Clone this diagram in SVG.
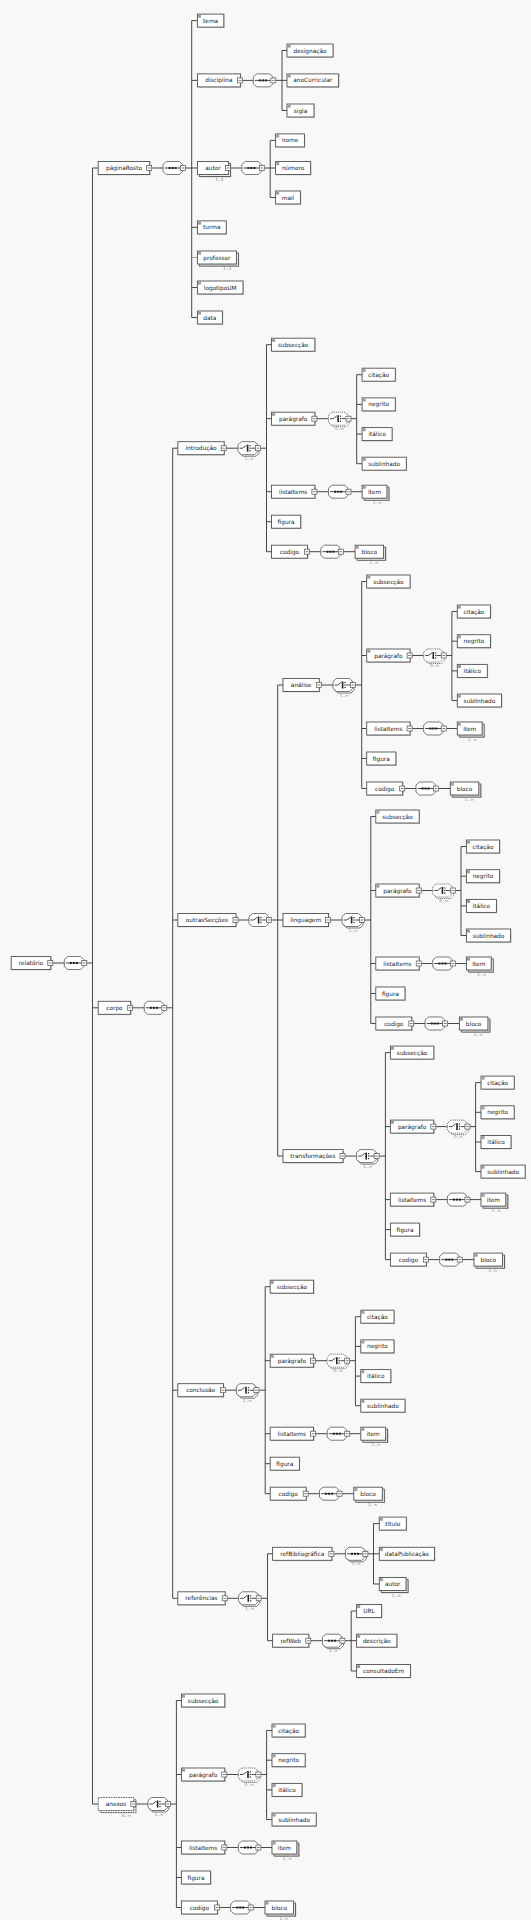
<svg xmlns="http://www.w3.org/2000/svg" xmlns:xlink="http://www.w3.org/1999/xlink" width="531" height="1920" viewBox="0 0 531 1920">
<style>
.bg{fill:#f8f8f8}
.bx{fill:#fff;stroke:#505050;stroke-width:0.9}
.bxd{stroke-dasharray:1.6,0.9}
.sh{fill:#bdbdbd}
.sq{fill:#9a9a9a}
.mn{fill:#fff;stroke:#505050;stroke-width:0.7}
.mnl{stroke:#333;stroke-width:0.6}
.oct{fill:#fff;stroke:#555;stroke-width:0.8}
.octd{stroke-dasharray:1.2,0.8}
.dot{fill:#222}
.ln{fill:none;stroke:#333;stroke-width:0.9}
.lng{fill:none;stroke:#999;stroke-width:0.9}
.t{font-family:"DejaVu Sans",sans-serif;font-size:5.8px;fill:#1a1a1a;text-anchor:middle}
.oe{font-family:"DejaVu Sans",sans-serif;font-size:4.4px;fill:#8a8a8a;text-anchor:end}
.om{font-family:"DejaVu Sans",sans-serif;font-size:4.4px;fill:#8a8a8a;text-anchor:middle}
</style>
<defs>
<g id="mn"><rect class="mn" x="0" y="0" width="5" height="5"/><path class="mnl" d="M1,2.5H4"/></g>
<path id="octP" d="M3.5,-6.5H16.5L19.5,-3.5V3.5L16.5,6.5H3.5L0,3.5V-3.5Z"/>
<g id="seq"><use href="#octP" class="oct"/><path class="ln" d="M1.5,0H17.5"/><rect class="dot" x="5.6" y="-1" width="2" height="2"/><rect class="dot" x="8.6" y="-1" width="2" height="2"/><rect class="dot" x="11.6" y="-1" width="2" height="2"/><use href="#mn" x="17.5" y="-2.5"/></g>
<g id="seqM"><use href="#octP" class="oct" transform="translate(1.5,1.5)"/><use href="#seq"/></g>
<g id="chS"><path class="ln" d="M1.5,0H4.8L8.3,-2.8"/><rect class="dot" x="8.8" y="-3.5" width="1.6" height="7"/><rect class="dot" x="11.4" y="-3.1" width="1.2" height="1.2"/><rect class="dot" x="11.4" y="-0.6" width="1.2" height="1.2"/><rect class="dot" x="11.4" y="1.9" width="1.2" height="1.2"/><path class="ln" d="M13.2,0H17.5"/><use href="#mn" x="17.5" y="-2.5"/></g>
<g id="ch"><use href="#octP" class="oct"/><use href="#chS"/></g>
<g id="chM"><use href="#octP" class="oct" transform="translate(1.5,1.5)"/><use href="#ch"/></g>
<g id="chMd"><use href="#octP" class="oct octd" transform="translate(1.5,1.5)"/><use href="#octP" class="oct octd"/><use href="#chS"/></g>
<path id="secL" d="M0,0V207M0,0H5M0,74H5M0,147H5M0,177H5M0,207H5M50.4,74H62M84.5,74H90.2M90.2,30V119M90.2,30H95.6M90.2,59.7H95.6M90.2,89.4H95.6M90.2,119H95.6M50.4,147H62M84.5,147H95.6M43,207H54.3M76.8,207H88.6"/>
</defs>
<rect class="bg" x="0" y="0" width="531" height="1920"/>

<g id="connectors">
<path class="ln" d="M52.8,963H64.3M86.8,963H92.5M92.5,168V1804M92.5,168H98.2M92.5,1007.8H98.2M92.5,1804H98.2
M151.7,168H163M185.5,168H197.4M191.7,20.6V317.5M191.7,20.6H197.4M191.7,80.4H197.4M191.7,227.4H197.4M191.7,287.5H197.4M191.7,317.5H197.4
M242.4,80.4H253.3M275.8,80.4H287M282,50.5V110.5M282,50.5H287M282,110.5H287
M230.4,168H241.8M264.3,168H275.6M270.2,140.4V197.5M270.2,140.4H275.6M270.2,197.5H275.6
M132.7,1007.8H144.3M166.8,1007.8H172.7M172.7,448.2V1598.3M172.7,448.2H177.8M172.7,920H177.8M172.7,1390.2H177.8M172.7,1598.3H177.8
M226.2,448.2H238M260.5,448.2H266.5
M238,920H249M271.5,920H283M277.7,685V1156.1M277.7,685H283M277.7,1156.1H283
M321.3,685H333M355.5,685H361.7
M330.5,920H342M364.5,920H370.8
M345,1156.1H356.6M379.1,1156.1H385.4
M225.5,1390.2H236.4M258.9,1390.2H265.2
M227.2,1598.3H238.7M261.2,1598.3H267.5M267.5,1553.8V1640.7M267.5,1553.8H272.6M267.5,1640.7H272.6
M333.9,1553.8H345.4M367.9,1553.8H379.3M373.5,1523.6V1584M373.5,1523.6H379.3M373.5,1584H379.3
M310.8,1640.7H322.4M344.9,1640.7H356.6M351.2,1611V1671M351.2,1611H356.6M351.2,1671H356.6
M135.8,1804H148M170.5,1804H176.4"/>
<path class="lng" d="M191.7,257.5H197.4"/>
<use href="#secL" class="ln" x="266.5" y="344.7"/>
<use href="#secL" class="ln" x="361.7" y="581.5"/>
<use href="#secL" class="ln" x="370.8" y="816.5"/>
<use href="#secL" class="ln" x="385.4" y="1052.6"/>
<use href="#secL" class="ln" x="265.2" y="1286.7"/>
<use href="#secL" class="ln" x="176.4" y="1700.5"/>
</g>

<g id="compositors">
<use href="#seq" x="64.3" y="963"/>
<use href="#seq" x="163" y="168"/>
<use href="#seq" x="253.3" y="80.4"/>
<use href="#seq" x="241.8" y="168"/>
<use href="#seq" x="144.3" y="1007.8"/>
<use href="#chM" x="238" y="448.2"/><text class="om" x="249" y="459.7">1..∞</text>
<use href="#ch" x="249" y="920"/>
<use href="#chM" x="333" y="685"/><text class="om" x="344" y="696.5">1..∞</text>
<use href="#chM" x="342" y="920"/><text class="om" x="353" y="931.5">1..∞</text>
<use href="#chM" x="356.6" y="1156.1"/><text class="om" x="367.6" y="1167.6">1..∞</text>
<use href="#chM" x="236.4" y="1390.2"/><text class="om" x="247.4" y="1401.7">1..∞</text>
<use href="#chM" x="238.7" y="1598.3"/><text class="om" x="249.7" y="1609.8">1..∞</text>
<use href="#seqM" x="345.4" y="1553.8"/><text class="om" x="356.4" y="1565.3">1..∞</text>
<use href="#seqM" x="322.4" y="1640.7"/><text class="om" x="333.4" y="1652.2">1..∞</text>
<use href="#chM" x="148" y="1804"/><text class="om" x="159" y="1815.5">1..∞</text>
</g>

<g id="relatorio"><rect class="sh" x="12" y="957.3" width="39.6" height="13"/><rect class="bx" x="11.2" y="956.5" width="39.6" height="13"/><use href="#mn" x="47.8" y="960.5"/><text class="t" x="31" y="965">relatório</text></g>
<g id="paginaRosto"><rect class="sh" x="99" y="162.3" width="51.5" height="13"/><rect class="bx" x="98.2" y="161.5" width="51.5" height="13"/><use href="#mn" x="146.7" y="165.5"/><text class="t" x="124" y="170">páginaRosto</text></g>
<g id="tema"><rect class="sh" x="198.2" y="14.9" width="26.4" height="13"/><rect class="bx" x="197.4" y="14.1" width="26.4" height="13"/><rect class="sq" x="198" y="14.7" width="3" height="3"/><text class="t" x="210.6" y="22.6">tema</text></g>
<g id="disciplina"><rect class="sh" x="198.2" y="74.7" width="43" height="13"/><rect class="bx" x="197.4" y="73.9" width="43" height="13"/><use href="#mn" x="237.4" y="77.9"/><text class="t" x="218.9" y="82.4">disciplina</text></g>
<g id="designacao"><rect class="sh" x="287.8" y="44.8" width="46" height="13"/><rect class="bx" x="287" y="44" width="46" height="13"/><rect class="sq" x="287.6" y="44.6" width="3" height="3"/><text class="t" x="310" y="52.5">designação</text></g>
<g id="anoCurricular"><rect class="sh" x="287.8" y="74.7" width="51.6" height="13"/><rect class="bx" x="287" y="73.9" width="51.6" height="13"/><rect class="sq" x="287.6" y="74.5" width="3" height="3"/><text class="t" x="312.8" y="82.4">anoCurricular</text></g>
<g id="sigla"><rect class="sh" x="287.8" y="104.8" width="27" height="13"/><rect class="bx" x="287" y="104" width="27" height="13"/><rect class="sq" x="287.6" y="104.6" width="3" height="3"/><text class="t" x="300.5" y="112.5">sigla</text></g>
<g id="autor"><rect class="sh" x="200.2" y="164.3" width="31" height="13"/><rect class="bx" x="199.4" y="163.5" width="31" height="13"/><rect class="sh" x="198.2" y="162.3" width="31" height="13"/><rect class="bx" x="197.4" y="161.5" width="31" height="13"/><use href="#mn" x="225.4" y="165.5"/><text class="t" x="212.9" y="170">autor</text><text class="oe" x="223.6" y="180.5">1..4</text></g>
<g id="nome"><rect class="sh" x="276.4" y="134.7" width="28.8" height="13"/><rect class="bx" x="275.6" y="133.9" width="28.8" height="13"/><rect class="sq" x="276.2" y="134.5" width="3" height="3"/><text class="t" x="290" y="142.4">nome</text></g>
<g id="numero"><rect class="sh" x="276.4" y="162.3" width="35" height="13"/><rect class="bx" x="275.6" y="161.5" width="35" height="13"/><rect class="sq" x="276.2" y="162.1" width="3" height="3"/><text class="t" x="293.1" y="170">número</text></g>
<g id="mail"><rect class="sh" x="276.4" y="191.8" width="24.8" height="13"/><rect class="bx" x="275.6" y="191" width="24.8" height="13"/><rect class="sq" x="276.2" y="191.6" width="3" height="3"/><text class="t" x="288" y="199.5">mail</text></g>
<g id="turma"><rect class="sh" x="198.2" y="221.7" width="28.8" height="13"/><rect class="bx" x="197.4" y="220.9" width="28.8" height="13"/><rect class="sq" x="198" y="221.5" width="3" height="3"/><text class="t" x="211.8" y="229.4">turma</text></g>
<g id="professor"><rect class="sh" x="200.2" y="253.8" width="39" height="13"/><rect class="bx" x="199.4" y="253" width="39" height="13"/><rect class="sh" x="198.2" y="251.8" width="39" height="13"/><rect class="bx" x="197.4" y="251" width="39" height="13"/><rect class="sq" x="198" y="251.6" width="3" height="3"/><text class="t" x="216.9" y="259.5">professor</text><text class="oe" x="231.4" y="270">1..3</text></g>
<g id="logotipoUM"><rect class="sh" x="198.2" y="281.8" width="45.6" height="13"/><rect class="bx" x="197.4" y="281" width="45.6" height="13"/><rect class="sq" x="198" y="281.6" width="3" height="3"/><text class="t" x="220.2" y="289.5">logotipoUM</text></g>
<g id="data"><rect class="sh" x="198.2" y="311.8" width="25" height="13"/><rect class="bx" x="197.4" y="311" width="25" height="13"/><rect class="sq" x="198" y="311.6" width="3" height="3"/><text class="t" x="209.9" y="319.5">data</text></g>
<g id="corpo"><rect class="sh" x="99" y="1002.1" width="32.5" height="13"/><rect class="bx" x="98.2" y="1001.3" width="32.5" height="13"/><use href="#mn" x="127.7" y="1005.3"/><text class="t" x="114.45" y="1009.8">corpo</text></g>
<g id="introducao"><rect class="sh" x="178.6" y="442.5" width="46.4" height="13"/><rect class="bx" x="177.8" y="441.7" width="46.4" height="13"/><use href="#mn" x="221.2" y="445.7"/><text class="t" x="201" y="450.2">introdução</text></g>
<g id="outrasSeccoes"><rect class="sh" x="178.6" y="914.3" width="58.2" height="13"/><rect class="bx" x="177.8" y="913.5" width="58.2" height="13"/><use href="#mn" x="233" y="917.5"/><text class="t" x="206.9" y="922">outrasSecções</text></g>
<g id="analise"><rect class="sh" x="283.8" y="679.3" width="36.3" height="13"/><rect class="bx" x="283" y="678.5" width="36.3" height="13"/><use href="#mn" x="316.3" y="682.5"/><text class="t" x="301.15" y="687">análise</text></g>
<g id="linguagem"><rect class="sh" x="283.8" y="914.3" width="45.5" height="13"/><rect class="bx" x="283" y="913.5" width="45.5" height="13"/><use href="#mn" x="325.5" y="917.5"/><text class="t" x="305.75" y="922">linguagem</text></g>
<g id="transformacoes"><rect class="sh" x="283.8" y="1150.4" width="60" height="13"/><rect class="bx" x="283" y="1149.6" width="60" height="13"/><use href="#mn" x="340" y="1153.6"/><text class="t" x="313" y="1158.1">transformações</text></g>
<g id="conclusao"><rect class="sh" x="178.6" y="1384.5" width="45.7" height="13"/><rect class="bx" x="177.8" y="1383.7" width="45.7" height="13"/><use href="#mn" x="220.5" y="1387.7"/><text class="t" x="200.65" y="1392.2">conclusão</text></g>
<g id="referencias"><rect class="sh" x="178.6" y="1592.6" width="47.4" height="13"/><rect class="bx" x="177.8" y="1591.8" width="47.4" height="13"/><use href="#mn" x="222.2" y="1595.8"/><text class="t" x="201.5" y="1600.3">referências</text></g>
<g id="refBibliografica"><rect class="sh" x="273.4" y="1548.1" width="59.3" height="13"/><rect class="bx" x="272.6" y="1547.3" width="59.3" height="13"/><use href="#mn" x="328.9" y="1551.3"/><text class="t" x="302.25" y="1555.8">refBibliográfica</text></g>
<g id="titulo"><rect class="sh" x="380.1" y="1517.9" width="27" height="13"/><rect class="bx" x="379.3" y="1517.1" width="27" height="13"/><rect class="sq" x="379.9" y="1517.7" width="3" height="3"/><text class="t" x="392.8" y="1525.6">título</text></g>
<g id="dataPublicacao"><rect class="sh" x="380.1" y="1548.1" width="55.2" height="13"/><rect class="bx" x="379.3" y="1547.3" width="55.2" height="13"/><rect class="sq" x="379.9" y="1547.9" width="3" height="3"/><text class="t" x="406.9" y="1555.8">dataPublicação</text></g>
<g id="refAutor"><rect class="sh" x="382.1" y="1580.3" width="26.7" height="13"/><rect class="bx" x="381.3" y="1579.5" width="26.7" height="13"/><rect class="sh" x="380.1" y="1578.3" width="26.7" height="13"/><rect class="bx" x="379.3" y="1577.5" width="26.7" height="13"/><rect class="sq" x="379.9" y="1578.1" width="3" height="3"/><text class="t" x="392.65" y="1586">autor</text><text class="oe" x="401" y="1596.5">1..∞</text></g>
<g id="refWeb"><rect class="sh" x="273.4" y="1635" width="36.2" height="13"/><rect class="bx" x="272.6" y="1634.2" width="36.2" height="13"/><use href="#mn" x="305.8" y="1638.2"/><text class="t" x="290.7" y="1642.7">refWeb</text></g>
<g id="URL"><rect class="sh" x="357.4" y="1605.3" width="25" height="13"/><rect class="bx" x="356.6" y="1604.5" width="25" height="13"/><rect class="sq" x="357.2" y="1605.1" width="3" height="3"/><text class="t" x="369.1" y="1613">URL</text></g>
<g id="descricao"><rect class="sh" x="357.4" y="1635" width="40.3" height="13"/><rect class="bx" x="356.6" y="1634.2" width="40.3" height="13"/><rect class="sq" x="357.2" y="1634.8" width="3" height="3"/><text class="t" x="376.75" y="1642.7">descrição</text></g>
<g id="consultadoEm"><rect class="sh" x="357.4" y="1665.3" width="53.8" height="13"/><rect class="bx" x="356.6" y="1664.5" width="53.8" height="13"/><rect class="sq" x="357.2" y="1665.1" width="3" height="3"/><text class="t" x="383.5" y="1673">consultadoEm</text></g>
<g id="anexos"><rect class="sh" x="101" y="1800.3" width="35.6" height="13"/><rect class="bx bxd" x="100.2" y="1799.5" width="35.6" height="13"/><rect class="sh" x="99" y="1798.3" width="35.6" height="13"/><rect class="bx bxd" x="98.2" y="1797.5" width="35.6" height="13"/><use href="#mn" x="130.8" y="1801.5"/><text class="t" x="116" y="1806">anexos</text><text class="oe" x="131" y="1816.5">0..∞</text></g>

<g id="sec-introducao" transform="translate(266.5,344.7)">
<g id="introducao-subseccao"><rect class="sh" x="5.8" y="-5.7" width="43.4" height="13"/><rect class="bx" x="5" y="-6.5" width="43.4" height="13"/><rect class="sq" x="5.6" y="-5.9" width="3" height="3"/><text class="t" x="26.7" y="2">subsecção</text></g>
<g id="introducao-paragrafo"><rect class="sh" x="5.8" y="68.3" width="43.4" height="13"/><rect class="bx" x="5" y="67.5" width="43.4" height="13"/><rect class="sq" x="5.6" y="68.1" width="3" height="3"/><use href="#mn" x="45.4" y="71.5"/><text class="t" x="26.7" y="76">parágrafo</text></g>
<g id="introducao-paragrafo-choice"><use href="#chMd" x="62" y="74"/><text class="om" x="73" y="85.5">0..∞</text></g>
<g id="introducao-citacao"><rect class="sh" x="96.4" y="24.3" width="33.2" height="13"/><rect class="bx" x="95.6" y="23.5" width="33.2" height="13"/><rect class="sq" x="96.2" y="24.1" width="3" height="3"/><text class="t" x="112.2" y="32">citação</text></g>
<g id="introducao-negrito"><rect class="sh" x="96.4" y="54" width="33.2" height="13"/><rect class="bx" x="95.6" y="53.2" width="33.2" height="13"/><rect class="sq" x="96.2" y="53.8" width="3" height="3"/><text class="t" x="112.2" y="61.7">negrito</text></g>
<g id="introducao-italico"><rect class="sh" x="96.4" y="83.7" width="30" height="13"/><rect class="bx" x="95.6" y="82.9" width="30" height="13"/><rect class="sq" x="96.2" y="83.5" width="3" height="3"/><text class="t" x="110.6" y="91.4">itálico</text></g>
<g id="introducao-sublinhado"><rect class="sh" x="96.4" y="113.3" width="44.2" height="13"/><rect class="bx" x="95.6" y="112.5" width="44.2" height="13"/><rect class="sq" x="96.2" y="113.1" width="3" height="3"/><text class="t" x="117.7" y="121">sublinhado</text></g>
<g id="introducao-listaItems"><rect class="sh" x="5.8" y="141.3" width="43.4" height="13"/><rect class="bx" x="5" y="140.5" width="43.4" height="13"/><use href="#mn" x="45.4" y="144.5"/><text class="t" x="26.7" y="149">listaItems</text></g>
<use href="#seq" x="62" y="147"/>
<g id="introducao-item"><rect class="sh" x="98.4" y="143.3" width="24.8" height="13"/><rect class="bx" x="97.6" y="142.5" width="24.8" height="13"/><rect class="sh" x="96.4" y="141.3" width="24.8" height="13"/><rect class="bx" x="95.6" y="140.5" width="24.8" height="13"/><rect class="sq" x="96.2" y="141.1" width="3" height="3"/><text class="t" x="108" y="149">item</text><text class="oe" x="115.4" y="159.5">1..∞</text></g>
<g id="introducao-figura"><rect class="sh" x="5.8" y="171.3" width="29.2" height="13"/><rect class="bx" x="5" y="170.5" width="29.2" height="13"/><text class="t" x="19.6" y="179">figura</text></g>
<g id="introducao-codigo"><rect class="sh" x="5.8" y="201.3" width="36" height="13"/><rect class="bx" x="5" y="200.5" width="36" height="13"/><use href="#mn" x="38" y="204.5"/><text class="t" x="23" y="209">codigo</text></g>
<use href="#seq" x="54.3" y="207"/>
<g id="introducao-bloco"><rect class="sh" x="91.4" y="203.3" width="28.5" height="13"/><rect class="bx" x="90.6" y="202.5" width="28.5" height="13"/><rect class="sh" x="89.4" y="201.3" width="28.5" height="13"/><rect class="bx" x="88.6" y="200.5" width="28.5" height="13"/><rect class="sq" x="89.2" y="201.1" width="3" height="3"/><text class="t" x="102.85" y="209">bloco</text><text class="oe" x="112.1" y="219.5">1..∞</text></g>
</g>

<g id="sec-analise" transform="translate(361.7,581.5)">
<g id="analise-subseccao"><rect class="sh" x="5.8" y="-5.7" width="43.4" height="13"/><rect class="bx" x="5" y="-6.5" width="43.4" height="13"/><rect class="sq" x="5.6" y="-5.9" width="3" height="3"/><text class="t" x="26.7" y="2">subsecção</text></g>
<g id="analise-paragrafo"><rect class="sh" x="5.8" y="68.3" width="43.4" height="13"/><rect class="bx" x="5" y="67.5" width="43.4" height="13"/><rect class="sq" x="5.6" y="68.1" width="3" height="3"/><use href="#mn" x="45.4" y="71.5"/><text class="t" x="26.7" y="76">parágrafo</text></g>
<g id="analise-paragrafo-choice"><use href="#chMd" x="62" y="74"/><text class="om" x="73" y="85.5">0..∞</text></g>
<g id="analise-citacao"><rect class="sh" x="96.4" y="24.3" width="33.2" height="13"/><rect class="bx" x="95.6" y="23.5" width="33.2" height="13"/><rect class="sq" x="96.2" y="24.1" width="3" height="3"/><text class="t" x="112.2" y="32">citação</text></g>
<g id="analise-negrito"><rect class="sh" x="96.4" y="54" width="33.2" height="13"/><rect class="bx" x="95.6" y="53.2" width="33.2" height="13"/><rect class="sq" x="96.2" y="53.8" width="3" height="3"/><text class="t" x="112.2" y="61.7">negrito</text></g>
<g id="analise-italico"><rect class="sh" x="96.4" y="83.7" width="30" height="13"/><rect class="bx" x="95.6" y="82.9" width="30" height="13"/><rect class="sq" x="96.2" y="83.5" width="3" height="3"/><text class="t" x="110.6" y="91.4">itálico</text></g>
<g id="analise-sublinhado"><rect class="sh" x="96.4" y="113.3" width="44.2" height="13"/><rect class="bx" x="95.6" y="112.5" width="44.2" height="13"/><rect class="sq" x="96.2" y="113.1" width="3" height="3"/><text class="t" x="117.7" y="121">sublinhado</text></g>
<g id="analise-listaItems"><rect class="sh" x="5.8" y="141.3" width="43.4" height="13"/><rect class="bx" x="5" y="140.5" width="43.4" height="13"/><use href="#mn" x="45.4" y="144.5"/><text class="t" x="26.7" y="149">listaItems</text></g>
<use href="#seq" x="62" y="147"/>
<g id="analise-item"><rect class="sh" x="98.4" y="143.3" width="24.8" height="13"/><rect class="bx" x="97.6" y="142.5" width="24.8" height="13"/><rect class="sh" x="96.4" y="141.3" width="24.8" height="13"/><rect class="bx" x="95.6" y="140.5" width="24.8" height="13"/><rect class="sq" x="96.2" y="141.1" width="3" height="3"/><text class="t" x="108" y="149">item</text><text class="oe" x="115.4" y="159.5">1..∞</text></g>
<g id="analise-figura"><rect class="sh" x="5.8" y="171.3" width="29.2" height="13"/><rect class="bx" x="5" y="170.5" width="29.2" height="13"/><text class="t" x="19.6" y="179">figura</text></g>
<g id="analise-codigo"><rect class="sh" x="5.8" y="201.3" width="36" height="13"/><rect class="bx" x="5" y="200.5" width="36" height="13"/><use href="#mn" x="38" y="204.5"/><text class="t" x="23" y="209">codigo</text></g>
<use href="#seq" x="54.3" y="207"/>
<g id="analise-bloco"><rect class="sh" x="91.4" y="203.3" width="28.5" height="13"/><rect class="bx" x="90.6" y="202.5" width="28.5" height="13"/><rect class="sh" x="89.4" y="201.3" width="28.5" height="13"/><rect class="bx" x="88.6" y="200.5" width="28.5" height="13"/><rect class="sq" x="89.2" y="201.1" width="3" height="3"/><text class="t" x="102.85" y="209">bloco</text><text class="oe" x="112.1" y="219.5">1..∞</text></g>
</g>

<g id="sec-linguagem" transform="translate(370.8,816.5)">
<g id="linguagem-subseccao"><rect class="sh" x="5.8" y="-5.7" width="43.4" height="13"/><rect class="bx" x="5" y="-6.5" width="43.4" height="13"/><rect class="sq" x="5.6" y="-5.9" width="3" height="3"/><text class="t" x="26.7" y="2">subsecção</text></g>
<g id="linguagem-paragrafo"><rect class="sh" x="5.8" y="68.3" width="43.4" height="13"/><rect class="bx" x="5" y="67.5" width="43.4" height="13"/><rect class="sq" x="5.6" y="68.1" width="3" height="3"/><use href="#mn" x="45.4" y="71.5"/><text class="t" x="26.7" y="76">parágrafo</text></g>
<g id="linguagem-paragrafo-choice"><use href="#chMd" x="62" y="74"/><text class="om" x="73" y="85.5">0..∞</text></g>
<g id="linguagem-citacao"><rect class="sh" x="96.4" y="24.3" width="33.2" height="13"/><rect class="bx" x="95.6" y="23.5" width="33.2" height="13"/><rect class="sq" x="96.2" y="24.1" width="3" height="3"/><text class="t" x="112.2" y="32">citação</text></g>
<g id="linguagem-negrito"><rect class="sh" x="96.4" y="54" width="33.2" height="13"/><rect class="bx" x="95.6" y="53.2" width="33.2" height="13"/><rect class="sq" x="96.2" y="53.8" width="3" height="3"/><text class="t" x="112.2" y="61.7">negrito</text></g>
<g id="linguagem-italico"><rect class="sh" x="96.4" y="83.7" width="30" height="13"/><rect class="bx" x="95.6" y="82.9" width="30" height="13"/><rect class="sq" x="96.2" y="83.5" width="3" height="3"/><text class="t" x="110.6" y="91.4">itálico</text></g>
<g id="linguagem-sublinhado"><rect class="sh" x="96.4" y="113.3" width="44.2" height="13"/><rect class="bx" x="95.6" y="112.5" width="44.2" height="13"/><rect class="sq" x="96.2" y="113.1" width="3" height="3"/><text class="t" x="117.7" y="121">sublinhado</text></g>
<g id="linguagem-listaItems"><rect class="sh" x="5.8" y="141.3" width="43.4" height="13"/><rect class="bx" x="5" y="140.5" width="43.4" height="13"/><use href="#mn" x="45.4" y="144.5"/><text class="t" x="26.7" y="149">listaItems</text></g>
<use href="#seq" x="62" y="147"/>
<g id="linguagem-item"><rect class="sh" x="98.4" y="143.3" width="24.8" height="13"/><rect class="bx" x="97.6" y="142.5" width="24.8" height="13"/><rect class="sh" x="96.4" y="141.3" width="24.8" height="13"/><rect class="bx" x="95.6" y="140.5" width="24.8" height="13"/><rect class="sq" x="96.2" y="141.1" width="3" height="3"/><text class="t" x="108" y="149">item</text><text class="oe" x="115.4" y="159.5">1..∞</text></g>
<g id="linguagem-figura"><rect class="sh" x="5.8" y="171.3" width="29.2" height="13"/><rect class="bx" x="5" y="170.5" width="29.2" height="13"/><text class="t" x="19.6" y="179">figura</text></g>
<g id="linguagem-codigo"><rect class="sh" x="5.8" y="201.3" width="36" height="13"/><rect class="bx" x="5" y="200.5" width="36" height="13"/><use href="#mn" x="38" y="204.5"/><text class="t" x="23" y="209">codigo</text></g>
<use href="#seq" x="54.3" y="207"/>
<g id="linguagem-bloco"><rect class="sh" x="91.4" y="203.3" width="28.5" height="13"/><rect class="bx" x="90.6" y="202.5" width="28.5" height="13"/><rect class="sh" x="89.4" y="201.3" width="28.5" height="13"/><rect class="bx" x="88.6" y="200.5" width="28.5" height="13"/><rect class="sq" x="89.2" y="201.1" width="3" height="3"/><text class="t" x="102.85" y="209">bloco</text><text class="oe" x="112.1" y="219.5">1..∞</text></g>
</g>

<g id="sec-transformacoes" transform="translate(385.4,1052.6)">
<g id="transformacoes-subseccao"><rect class="sh" x="5.8" y="-5.7" width="43.4" height="13"/><rect class="bx" x="5" y="-6.5" width="43.4" height="13"/><rect class="sq" x="5.6" y="-5.9" width="3" height="3"/><text class="t" x="26.7" y="2">subsecção</text></g>
<g id="transformacoes-paragrafo"><rect class="sh" x="5.8" y="68.3" width="43.4" height="13"/><rect class="bx" x="5" y="67.5" width="43.4" height="13"/><rect class="sq" x="5.6" y="68.1" width="3" height="3"/><use href="#mn" x="45.4" y="71.5"/><text class="t" x="26.7" y="76">parágrafo</text></g>
<g id="transformacoes-paragrafo-choice"><use href="#chMd" x="62" y="74"/><text class="om" x="73" y="85.5">0..∞</text></g>
<g id="transformacoes-citacao"><rect class="sh" x="96.4" y="24.3" width="33.2" height="13"/><rect class="bx" x="95.6" y="23.5" width="33.2" height="13"/><rect class="sq" x="96.2" y="24.1" width="3" height="3"/><text class="t" x="112.2" y="32">citação</text></g>
<g id="transformacoes-negrito"><rect class="sh" x="96.4" y="54" width="33.2" height="13"/><rect class="bx" x="95.6" y="53.2" width="33.2" height="13"/><rect class="sq" x="96.2" y="53.8" width="3" height="3"/><text class="t" x="112.2" y="61.7">negrito</text></g>
<g id="transformacoes-italico"><rect class="sh" x="96.4" y="83.7" width="30" height="13"/><rect class="bx" x="95.6" y="82.9" width="30" height="13"/><rect class="sq" x="96.2" y="83.5" width="3" height="3"/><text class="t" x="110.6" y="91.4">itálico</text></g>
<g id="transformacoes-sublinhado"><rect class="sh" x="96.4" y="113.3" width="44.2" height="13"/><rect class="bx" x="95.6" y="112.5" width="44.2" height="13"/><rect class="sq" x="96.2" y="113.1" width="3" height="3"/><text class="t" x="117.7" y="121">sublinhado</text></g>
<g id="transformacoes-listaItems"><rect class="sh" x="5.8" y="141.3" width="43.4" height="13"/><rect class="bx" x="5" y="140.5" width="43.4" height="13"/><use href="#mn" x="45.4" y="144.5"/><text class="t" x="26.7" y="149">listaItems</text></g>
<use href="#seq" x="62" y="147"/>
<g id="transformacoes-item"><rect class="sh" x="98.4" y="143.3" width="24.8" height="13"/><rect class="bx" x="97.6" y="142.5" width="24.8" height="13"/><rect class="sh" x="96.4" y="141.3" width="24.8" height="13"/><rect class="bx" x="95.6" y="140.5" width="24.8" height="13"/><rect class="sq" x="96.2" y="141.1" width="3" height="3"/><text class="t" x="108" y="149">item</text><text class="oe" x="115.4" y="159.5">1..∞</text></g>
<g id="transformacoes-figura"><rect class="sh" x="5.8" y="171.3" width="29.2" height="13"/><rect class="bx" x="5" y="170.5" width="29.2" height="13"/><text class="t" x="19.6" y="179">figura</text></g>
<g id="transformacoes-codigo"><rect class="sh" x="5.8" y="201.3" width="36" height="13"/><rect class="bx" x="5" y="200.5" width="36" height="13"/><use href="#mn" x="38" y="204.5"/><text class="t" x="23" y="209">codigo</text></g>
<use href="#seq" x="54.3" y="207"/>
<g id="transformacoes-bloco"><rect class="sh" x="91.4" y="203.3" width="28.5" height="13"/><rect class="bx" x="90.6" y="202.5" width="28.5" height="13"/><rect class="sh" x="89.4" y="201.3" width="28.5" height="13"/><rect class="bx" x="88.6" y="200.5" width="28.5" height="13"/><rect class="sq" x="89.2" y="201.1" width="3" height="3"/><text class="t" x="102.85" y="209">bloco</text><text class="oe" x="112.1" y="219.5">1..∞</text></g>
</g>

<g id="sec-conclusao" transform="translate(265.2,1286.7)">
<g id="conclusao-subseccao"><rect class="sh" x="5.8" y="-5.7" width="43.4" height="13"/><rect class="bx" x="5" y="-6.5" width="43.4" height="13"/><rect class="sq" x="5.6" y="-5.9" width="3" height="3"/><text class="t" x="26.7" y="2">subsecção</text></g>
<g id="conclusao-paragrafo"><rect class="sh" x="5.8" y="68.3" width="43.4" height="13"/><rect class="bx" x="5" y="67.5" width="43.4" height="13"/><rect class="sq" x="5.6" y="68.1" width="3" height="3"/><use href="#mn" x="45.4" y="71.5"/><text class="t" x="26.7" y="76">parágrafo</text></g>
<g id="conclusao-paragrafo-choice"><use href="#chMd" x="62" y="74"/><text class="om" x="73" y="85.5">0..∞</text></g>
<g id="conclusao-citacao"><rect class="sh" x="96.4" y="24.3" width="33.2" height="13"/><rect class="bx" x="95.6" y="23.5" width="33.2" height="13"/><rect class="sq" x="96.2" y="24.1" width="3" height="3"/><text class="t" x="112.2" y="32">citação</text></g>
<g id="conclusao-negrito"><rect class="sh" x="96.4" y="54" width="33.2" height="13"/><rect class="bx" x="95.6" y="53.2" width="33.2" height="13"/><rect class="sq" x="96.2" y="53.8" width="3" height="3"/><text class="t" x="112.2" y="61.7">negrito</text></g>
<g id="conclusao-italico"><rect class="sh" x="96.4" y="83.7" width="30" height="13"/><rect class="bx" x="95.6" y="82.9" width="30" height="13"/><rect class="sq" x="96.2" y="83.5" width="3" height="3"/><text class="t" x="110.6" y="91.4">itálico</text></g>
<g id="conclusao-sublinhado"><rect class="sh" x="96.4" y="113.3" width="44.2" height="13"/><rect class="bx" x="95.6" y="112.5" width="44.2" height="13"/><rect class="sq" x="96.2" y="113.1" width="3" height="3"/><text class="t" x="117.7" y="121">sublinhado</text></g>
<g id="conclusao-listaItems"><rect class="sh" x="5.8" y="141.3" width="43.4" height="13"/><rect class="bx" x="5" y="140.5" width="43.4" height="13"/><use href="#mn" x="45.4" y="144.5"/><text class="t" x="26.7" y="149">listaItems</text></g>
<use href="#seq" x="62" y="147"/>
<g id="conclusao-item"><rect class="sh" x="98.4" y="143.3" width="24.8" height="13"/><rect class="bx" x="97.6" y="142.5" width="24.8" height="13"/><rect class="sh" x="96.4" y="141.3" width="24.8" height="13"/><rect class="bx" x="95.6" y="140.5" width="24.8" height="13"/><rect class="sq" x="96.2" y="141.1" width="3" height="3"/><text class="t" x="108" y="149">item</text><text class="oe" x="115.4" y="159.5">1..∞</text></g>
<g id="conclusao-figura"><rect class="sh" x="5.8" y="171.3" width="29.2" height="13"/><rect class="bx" x="5" y="170.5" width="29.2" height="13"/><text class="t" x="19.6" y="179">figura</text></g>
<g id="conclusao-codigo"><rect class="sh" x="5.8" y="201.3" width="36" height="13"/><rect class="bx" x="5" y="200.5" width="36" height="13"/><use href="#mn" x="38" y="204.5"/><text class="t" x="23" y="209">codigo</text></g>
<use href="#seq" x="54.3" y="207"/>
<g id="conclusao-bloco"><rect class="sh" x="91.4" y="203.3" width="28.5" height="13"/><rect class="bx" x="90.6" y="202.5" width="28.5" height="13"/><rect class="sh" x="89.4" y="201.3" width="28.5" height="13"/><rect class="bx" x="88.6" y="200.5" width="28.5" height="13"/><rect class="sq" x="89.2" y="201.1" width="3" height="3"/><text class="t" x="102.85" y="209">bloco</text><text class="oe" x="112.1" y="219.5">1..∞</text></g>
</g>

<g id="sec-anexos" transform="translate(176.4,1700.5)">
<g id="anexos-subseccao"><rect class="sh" x="5.8" y="-5.7" width="43.4" height="13"/><rect class="bx" x="5" y="-6.5" width="43.4" height="13"/><rect class="sq" x="5.6" y="-5.9" width="3" height="3"/><text class="t" x="26.7" y="2">subsecção</text></g>
<g id="anexos-paragrafo"><rect class="sh" x="5.8" y="68.3" width="43.4" height="13"/><rect class="bx" x="5" y="67.5" width="43.4" height="13"/><rect class="sq" x="5.6" y="68.1" width="3" height="3"/><use href="#mn" x="45.4" y="71.5"/><text class="t" x="26.7" y="76">parágrafo</text></g>
<g id="anexos-paragrafo-choice"><use href="#chMd" x="62" y="74"/><text class="om" x="73" y="85.5">0..∞</text></g>
<g id="anexos-citacao"><rect class="sh" x="96.4" y="24.3" width="33.2" height="13"/><rect class="bx" x="95.6" y="23.5" width="33.2" height="13"/><rect class="sq" x="96.2" y="24.1" width="3" height="3"/><text class="t" x="112.2" y="32">citação</text></g>
<g id="anexos-negrito"><rect class="sh" x="96.4" y="54" width="33.2" height="13"/><rect class="bx" x="95.6" y="53.2" width="33.2" height="13"/><rect class="sq" x="96.2" y="53.8" width="3" height="3"/><text class="t" x="112.2" y="61.7">negrito</text></g>
<g id="anexos-italico"><rect class="sh" x="96.4" y="83.7" width="30" height="13"/><rect class="bx" x="95.6" y="82.9" width="30" height="13"/><rect class="sq" x="96.2" y="83.5" width="3" height="3"/><text class="t" x="110.6" y="91.4">itálico</text></g>
<g id="anexos-sublinhado"><rect class="sh" x="96.4" y="113.3" width="44.2" height="13"/><rect class="bx" x="95.6" y="112.5" width="44.2" height="13"/><rect class="sq" x="96.2" y="113.1" width="3" height="3"/><text class="t" x="117.7" y="121">sublinhado</text></g>
<g id="anexos-listaItems"><rect class="sh" x="5.8" y="141.3" width="43.4" height="13"/><rect class="bx" x="5" y="140.5" width="43.4" height="13"/><use href="#mn" x="45.4" y="144.5"/><text class="t" x="26.7" y="149">listaItems</text></g>
<use href="#seq" x="62" y="147"/>
<g id="anexos-item"><rect class="sh" x="98.4" y="143.3" width="24.8" height="13"/><rect class="bx" x="97.6" y="142.5" width="24.8" height="13"/><rect class="sh" x="96.4" y="141.3" width="24.8" height="13"/><rect class="bx" x="95.6" y="140.5" width="24.8" height="13"/><rect class="sq" x="96.2" y="141.1" width="3" height="3"/><text class="t" x="108" y="149">item</text><text class="oe" x="115.4" y="159.5">1..∞</text></g>
<g id="anexos-figura"><rect class="sh" x="5.8" y="171.3" width="29.2" height="13"/><rect class="bx" x="5" y="170.5" width="29.2" height="13"/><text class="t" x="19.6" y="179">figura</text></g>
<g id="anexos-codigo"><rect class="sh" x="5.8" y="201.3" width="36" height="13"/><rect class="bx" x="5" y="200.5" width="36" height="13"/><use href="#mn" x="38" y="204.5"/><text class="t" x="23" y="209">codigo</text></g>
<use href="#seq" x="54.3" y="207"/>
<g id="anexos-bloco"><rect class="sh" x="91.4" y="203.3" width="28.5" height="13"/><rect class="bx" x="90.6" y="202.5" width="28.5" height="13"/><rect class="sh" x="89.4" y="201.3" width="28.5" height="13"/><rect class="bx" x="88.6" y="200.5" width="28.5" height="13"/><rect class="sq" x="89.2" y="201.1" width="3" height="3"/><text class="t" x="102.85" y="209">bloco</text><text class="oe" x="112.1" y="219.5">1..∞</text></g>
</g>
</svg>
